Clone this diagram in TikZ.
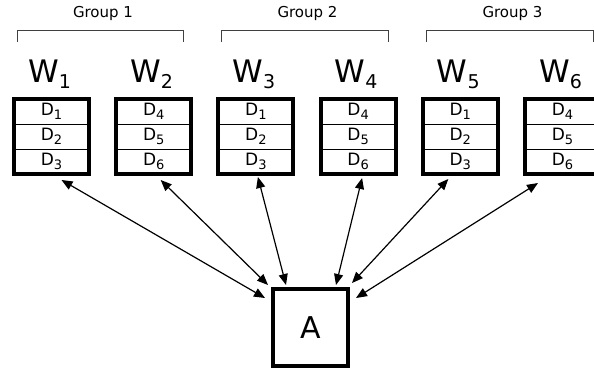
\documentclass[tikz,border=0pt]{standalone}
\usepackage{fontspec}
\setmainfont{DejaVu Sans}
\usetikzlibrary{arrows.meta,calc}

\newlength{\du}
\setlength{\du}{1bp}
\newcommand{\wname}[1]{{\fontsize{31bp}{31bp}\selectfont W\raisebox{-6bp}{\fontsize{19bp}{19bp}\selectfont #1}}}
\newcommand{\dname}[1]{{\fontsize{17bp}{17bp}\selectfont D\raisebox{-3.5bp}{\fontsize{13bp}{13bp}\selectfont #1}}}

\begin{document}
\begin{tikzpicture}[
  wbox/.style={draw,line width=4\du,minimum width=75\du,minimum height=75\du,inner sep=0pt},
  abox/.style={draw,line width=4\du,minimum width=75\du,minimum height=77\du,inner sep=0pt,font=\fontsize{30bp}{30bp}\selectfont},
  sep/.style={line width=1\du},
  bracket/.style={line width=1\du,draw=black!75},
  grp/.style={anchor=base,font=\fontsize{15bp}{15bp}\selectfont},
  link/.style={line width=1.2\du,{Triangle[length=11bp,width=9bp]}-{Triangle[length=11bp,width=9bp]}}
]
\pgftransformyscale{-1.000000}
\useasboundingbox (0\du,0\du) rectangle (594\du,368\du);
% groups
\foreach \g/\l/\r in {1/17/183,2/221/388,3/426/593}{
  \pgfmathsetmacro{\gx}{(\l+\r)/2+3}
  \draw[bracket] (\l\du,42\du) -- (\l\du,30\du) -- (\r\du,30\du) -- (\r\du,42\du);
  \node[grp] (g\g) at (\gx\du,17\du) {Group \g};
}
% workers
\foreach \i/\d in {1/1,2/4,3/1,4/4,5/1,6/4}{
  \pgfmathsetmacro{\cx}{51.5+102.2*(\i-1)}
  \pgfmathtruncatemacro{\e}{\d+1}
  \pgfmathtruncatemacro{\f}{\d+2}
  \node[wbox] (w\i) at (\cx\du,136.5\du) {};
  \draw[sep] ($(w\i.center)+(-37.5\du,-12.5\du)$) -- +(75\du,0);
  \draw[sep] ($(w\i.center)+(-37.5\du,12.5\du)$) -- +(75\du,0);
  \node (d\i-1) at ($(w\i.center)+(0,-25\du)$) {\dname{\d}};
  \node (d\i-2) at (w\i.center) {\dname{\e}};
  \node (d\i-3) at ($(w\i.center)+(0,25\du)$) {\dname{\f}};
  \node[anchor=base] (l\i) at ($(w\i.north)+(-2\du,-15\du)$) {\wname{\i}};
}
\node[abox] (a) at (310.5\du,327.5\du) {A};
% was here
\draw[link] ($(w1.south)+(10\du,4\du)$) -- ($(a.north west)+(-6\du,11\du)$);
\draw[link] ($(w2.south)+(7\du,4\du)$) -- ($(a.north west)+(-3\du,-2\du)$);
\draw[link] ($(w3.south)+(2\du,1\du)$) -- ($(a.north west)+(15\du,-2\du)$);
\draw[link] ($(w4.south)+(4\du,2\du)$) -- ($(a.north east)+(-14\du,-2\du)$);
\draw[link] ($(w5.south)+(-12\du,3\du)$) -- ($(a.north east)+(2\du,-4\du)$);
\draw[link] ($(w6.south)+(-24.5\du,7\du)$) -- ($(a.north east)+(6\du,11\du)$);
\end{tikzpicture}
\end{document}
